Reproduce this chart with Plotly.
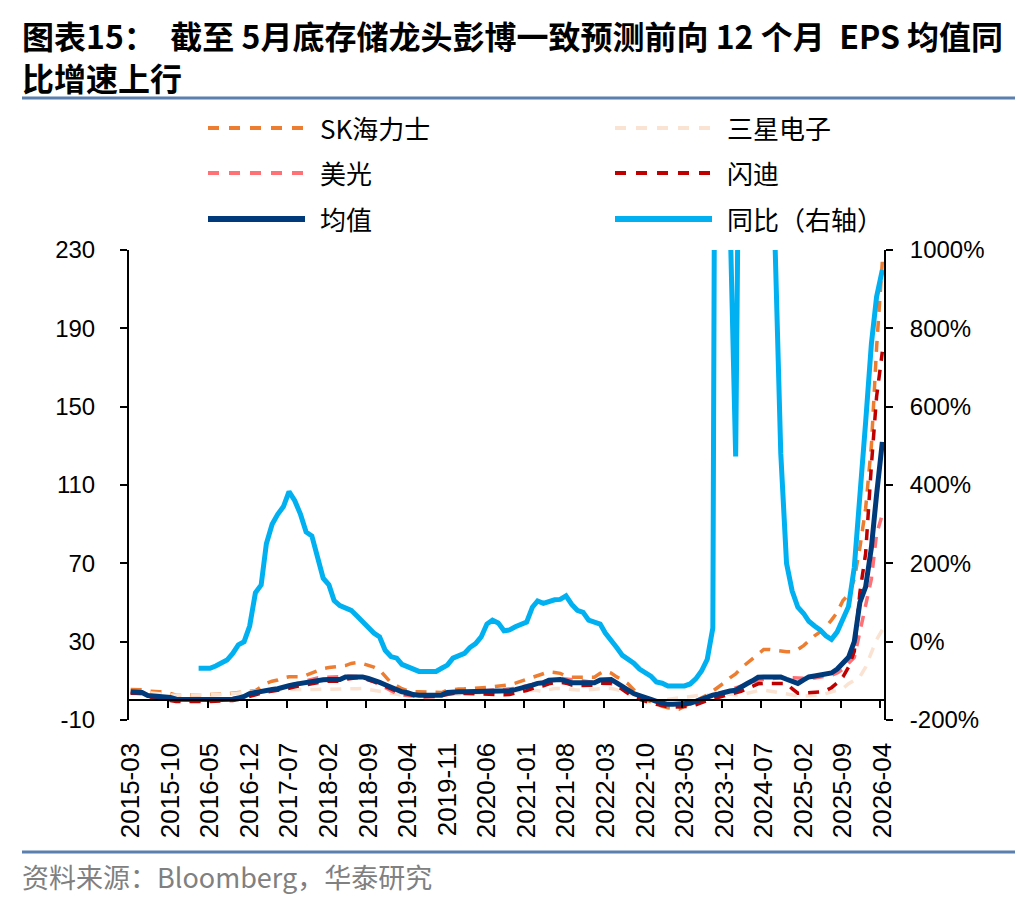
import plotly.graph_objects as go
import pandas as pd

# ---------------- data ----------------
months = pd.date_range("2015-03-01", periods=134, freq="MS")
month_labels = [d.strftime("%Y-%m") for d in months]

sk_hynix = [
    5.6, 5.5, 5.4, 4.8, 4.4, 4.4, 4.4, 3.5, 2.7, 2.7,
    2.7, 2.7, 2.8, 2.9, 3.0, 3.0, 3.1, 3.3, 3.6, 3.9,
    4.2, 4.8, 5.0, 7.0, 8.7, 9.8, 10.4, 11.5, 12.1, 12.1,
    12.1, 12.8, 14.0, 15.5, 16.3, 16.8, 17.0, 17.2, 17.8, 18.9,
    19.3, 18.8, 18.1, 17.0, 15.5, 12.0, 9.0, 7.5, 6.0, 5.0,
    4.4, 4.4, 4.4, 4.4, 4.2, 4.0, 5.2, 5.6, 5.8, 5.9,
    6.0, 6.1, 6.2, 6.6, 7.0, 7.2, 7.3, 7.9, 8.8, 9.8,
    10.6, 12.0, 12.8, 13.6, 14.6, 14.3, 13.8, 12.5, 11.8, 11.8,
    11.8, 11.8, 11.8, 13.8, 15.0, 14.0, 12.0, 10.5, 8.5, 5.5,
    2.5, 0.5, -0.8, -1.8, -3.0, -3.8, -4.3, -4.5, -3.0, -1.5,
    -0.3, 1.2, 2.8, 4.8, 6.8, 9.0, 11.5, 13.5, 16.5, 19.0,
    21.5, 24.0, 26.0, 26.0, 25.5, 25.0, 24.9, 24.9, 26.0, 28.0,
    30.5, 33.0, 35.0, 37.5, 41.0, 45.0, 51.0, 54.0, 62.0, 78.0,
    98.0, 130.0, 180.0, 224.0,
]

samsung = [
    4.5, 4.5, 4.3, 4.0, 3.6, 3.3, 3.0, 2.8, 2.7, 2.7,
    2.7, 2.7, 2.7, 2.7, 2.8, 2.9, 3.0, 3.2, 3.5, 3.8,
    4.2, 4.5, 4.8, 5.0, 5.2, 5.4, 5.5, 5.6, 5.6, 5.6,
    5.6, 5.6, 5.6, 5.6, 5.6, 5.6, 5.6, 5.6, 5.7, 5.8,
    6.0, 6.1, 5.6, 5.0, 4.4, 3.8, 3.3, 2.9, 2.7, 2.7,
    2.7, 2.7, 2.7, 2.7, 2.8, 2.9, 3.0, 3.1, 3.2, 3.3,
    3.4, 3.5, 3.7, 3.9, 4.1, 4.3, 4.4, 4.6, 4.8, 5.0,
    5.2, 5.3, 5.0, 4.4, 5.5, 6.1, 6.1, 5.8, 5.3, 5.3,
    5.3, 5.6, 5.8, 6.1, 6.1, 6.1, 5.5, 4.4, 3.5, 2.6,
    1.9, 1.2, 0.6, 0.0, 0.2, 0.6, 1.0, 1.4, 1.8, 2.2,
    2.5, 2.7, 2.9, 3.2, 3.5, 3.4, 3.1, 2.9, 2.7, 3.5,
    4.3, 5.0, 5.3, 4.8, 4.0, 3.5, 3.0, 2.6, 2.3, 2.2,
    2.3, 2.5, 2.7, 3.5, 4.5, 5.5, 6.1, 8.5, 10.5, 12.1,
    17.0, 24.0, 31.0, 36.0,
]

micron = [
    3.8, 3.7, 3.5, 2.5, 2.0, 1.5, 1.2, 0.8, 0.2, -0.2,
    -0.3, -0.4, -0.4, -0.3, -0.2, 0.0, 0.3, 0.6, 1.0, 1.5,
    2.2, 3.0, 3.8, 4.5, 5.0, 5.5, 6.0, 6.8, 7.8, 8.5,
    9.3, 10.0, 11.0, 11.5, 11.8, 12.0, 12.1, 12.2, 12.5, 12.4,
    12.2, 11.5, 10.5, 9.5, 8.0, 6.5, 5.0, 3.5, 2.8, 2.4,
    2.0, 1.8, 1.8, 1.9, 2.0, 2.4, 3.0, 3.5, 3.8, 4.2,
    4.5, 4.6, 4.8, 5.0, 5.2, 5.4, 5.6, 5.8, 6.2, 6.8,
    7.4, 8.0, 8.8, 9.5, 10.2, 10.8, 11.2, 11.0, 10.6, 10.0,
    9.6, 9.3, 9.0, 8.8, 8.6, 8.5, 7.8, 6.5, 5.0, 3.2,
    1.5, 0.5, -0.6, -1.5, -2.2, -2.6, -2.8, -2.7, -2.2, -1.5,
    -0.5, 0.5, 1.5, 2.5, 3.5, 4.5, 5.5, 6.5, 7.5, 8.5,
    9.5, 10.2, 10.8, 11.2, 11.4, 11.6, 11.6, 11.5, 11.3, 11.2,
    11.3, 11.5, 11.8, 12.2, 12.8, 14.0, 16.0, 19.0, 22.0, 35.0,
    48.0, 62.0, 85.0, 95.0,
]

sandisk = [
    3.6, 3.6, 3.5, 1.9, 1.5, 1.2, 0.5, 0.0, -0.5, -0.6,
    -0.6, -0.6, -0.6, -0.6, -0.5, -0.4, -0.3, -0.2, 0.0, 0.5,
    1.2, 2.0, 2.8, 3.8, 4.2, 4.5, 5.0, 5.5, 6.2, 7.0,
    7.5, 8.0, 8.8, 9.2, 9.5, 9.8, 9.8, 9.8, 10.8, 11.4,
    11.6, 11.4, 10.6, 9.6, 8.6, 7.2, 5.8, 4.6, 3.8, 3.4,
    2.6, 2.0, 2.0, 2.0, 2.0, 2.6, 3.2, 3.6, 3.6, 3.5,
    3.3, 3.1, 3.0, 2.9, 2.8, 2.8, 2.9, 3.0, 3.5, 4.4,
    5.0, 6.0, 7.0, 7.5, 8.5, 9.0, 9.2, 8.8, 7.8, 7.6,
    7.6, 7.6, 7.8, 8.8, 8.8, 8.8, 7.5, 5.5, 3.5, 1.5,
    0.5, -0.5, -1.2, -2.0, -2.8, -3.2, -3.4, -3.4, -3.3, -3.0,
    -2.2, -1.0, 0.0, 0.8, 1.6, 2.5, 3.3, 3.8, 4.6, 6.0,
    7.2, 8.5, 8.7, 8.8, 8.8, 8.7, 8.7, 6.0, 3.7, 3.8,
    3.9, 4.0, 4.3, 5.0, 6.5, 9.0, 12.0, 17.0, 25.0, 55.0,
    75.0, 120.0, 155.0, 178.0,
]

eps_mean = [
    4.4, 4.2, 4.0, 2.5, 2.2, 2.2, 2.2, 1.5, 0.6, 0.5,
    0.5, 0.5, 0.5, 0.5, 0.5, 0.5, 0.5, 0.5, 0.6, 1.2,
    2.0, 3.5, 4.2, 4.8, 5.3, 5.6, 6.0, 6.5, 7.5, 8.2,
    8.7, 9.2, 10.2, 10.5, 10.6, 10.7, 10.7, 10.7, 12.0, 12.1,
    12.1, 12.0, 11.2, 10.4, 9.2, 8.0, 6.8, 5.0, 4.4, 4.0,
    3.0, 2.7, 2.7, 2.7, 2.7, 2.7, 4.0, 4.4, 4.4, 4.4,
    4.4, 4.4, 4.4, 4.4, 4.5, 4.6, 4.7, 4.9, 5.5, 6.1,
    6.6, 7.8, 8.7, 9.0, 10.3, 10.7, 10.7, 10.0, 9.0, 9.0,
    9.0, 9.0, 9.0, 10.4, 10.4, 10.7, 9.0, 7.2, 5.5, 3.5,
    2.5, 1.2, 0.5, -0.5, -1.3, -2.0, -2.0, -2.0, -2.0, -1.5,
    -0.5, 0.8, 1.8, 2.7, 3.3, 4.2, 4.8, 5.2, 7.0, 8.5,
    10.0, 11.8, 12.0, 12.0, 12.0, 12.0, 10.8, 9.5, 8.7, 10.5,
    12.0, 12.5, 13.0, 13.5, 14.0, 16.0, 19.0, 22.0, 30.0, 50.0,
    58.0, 78.0, 105.0, 132.0,
]

# YoY growth of the mean (%), right axis; starts 12 months after the first month
yoy_pct = [None] * 12 + [
    -68, -68, -68, -62, -55, -47, -30, -8,
    0, 40, 125, 145, 250, 300, 325, 345, 383, 360,
    325, 280, 270, 215, 162, 145, 105, 92, 86, 80,
    66, 50, 35, 22, 12, -22, -38, -42, -58, -65,
    -72, -76, -76, -76, -76, -68, -60, -42, -37, -30,
    -15, -5, 12, 45, 55, 48, 28, 30, 38, 44,
    50, 88, 104, 98, 104, 107, 108, 117, 95, 80,
    75, 55, 50, 45, 22, 5, -15, -35, -45, -55,
    -70, -78, -88, -103, -106, -113, -114, -113, -113, -108,
    -95, -75, -45, 35, 4000, 6000, 1100, 473, 1050, 3000,
    5000, 4500, 3500, 2200, 1000, 480, 200, 130, 88, 72,
    52, 40, 30, 15, 6, 25, 60, 90, 190, 360,
    560, 760, 880, 949,
]

left_ticks = [-10, 30, 70, 110, 150, 190, 230]
left_tick_text = [str(v) for v in left_ticks]
right_ticks = [-200, 0, 200, 400, 600, 800, 1000]
right_tick_text = [f"{v}%" for v in right_ticks]

title_lines = ["图表15：  截至 5月底存储龙头彭博一致预测前向 12 个月  EPS 均值同", "比增速上行"]

# ---------------- layout helpers ----------------
W, H = 1036, 900
ML, MR, MT, MB = 129, 152, 250, 180
PW, PH = W - ML - MR, H - MT - MB


def px(x):
    return (x - ML) / PW


def py(y):
    return (H - MB - y) / PH


FONT = "Liberation Sans, Arial, Noto Sans CJK SC, sans-serif"
CJK = "Noto Sans CJK SC, Liberation Sans, sans-serif"

series = [
    ("SK海力士", sk_hynix, "#ED7D31", 3.5, "11px,9px"),
    ("三星电子", samsung, "#FBE3D3", 3.5, "11px,9px"),
    ("美光", micron, "#FF7175", 3.5, "11px,9px"),
    ("闪迪", sandisk, "#C00000", 3.5, "11px,9px"),
    ("均值", eps_mean, "#003A7A", 5, "solid"),
]

fig = go.Figure()
for name, vals, color, width, dash in series:
    fig.add_trace(go.Scatter(
        x=months, y=vals, name=name, mode="lines",
        line=dict(color=color, width=width, dash=dash),
        showlegend=False,
    ))
fig.add_trace(go.Scatter(
    x=months, y=yoy_pct, name="同比（右轴）", mode="lines", yaxis="y2",
    line=dict(color="#00B0F0", width=5), showlegend=False,
))

x_lo = months[0] - pd.Timedelta(days=9)
x_hi = months[-1] + pd.Timedelta(days=9)
minor_ticks = [months[7 * k + 6] + pd.Timedelta(days=18) for k in range(19)]

fig.update_layout(
    width=W, height=H,
    margin=dict(l=ML, r=MR, t=MT, b=MB),
    paper_bgcolor="white", plot_bgcolor="white",
    font=dict(family=FONT, color="black"),
    xaxis=dict(
        type="date", range=[x_lo, x_hi],
        anchor="free", position=10 / 240,
        showline=True, linecolor="black", linewidth=2,
        showgrid=False, zeroline=False,
        ticks="", tickvals=list(months[::7]), ticktext=month_labels[::7],
        tickangle=-90, tickfont=dict(size=26, family=FONT),
        ticklabelstandoff=31,
        minor=dict(tickmode="array", tickvals=minor_ticks, ticks="outside",
                   ticklen=7, tickwidth=2, tickcolor="black"),
    ),
    yaxis=dict(
        range=[-10, 230], tickmode="array",
        tickvals=left_ticks, ticktext=left_tick_text,
        showline=True, linecolor="black", linewidth=2,
        ticks="outside", ticklen=7, tickwidth=2, tickcolor="black",
        showgrid=False, zeroline=False,
        tickfont=dict(size=24, family=FONT), ticklabelstandoff=20,
    ),
    yaxis2=dict(
        overlaying="y", side="right", anchor="x",
        range=[-200, 1000], tickmode="array",
        tickvals=right_ticks, ticktext=right_tick_text,
        showline=True, linecolor="black", linewidth=2,
        ticks="outside", ticklen=7, tickwidth=2, tickcolor="black",
        showgrid=False, zeroline=False,
        tickfont=dict(size=24, family=FONT), ticklabelstandoff=12,
    ),
)

shapes = []
annotations = []

# separators
for yy in (98, 852):
    shapes.append(dict(type="line", xref="paper", yref="paper",
                       x0=px(22), x1=px(1015), y0=py(yy), y1=py(yy),
                       line=dict(color="#5B7FAE", width=3)))

# title (two lines in one text block)
annotations.append(dict(
    xref="paper", yref="paper", x=px(20), y=py(56), xanchor="left", yanchor="middle",
    align="left",
    text="<br>".join(f"<b>{t}</b>" for t in title_lines),
    showarrow=False, font=dict(size=32, family=CJK, color="black"),
))

# source
annotations.append(dict(
    xref="paper", yref="paper", x=px(20), y=py(877), xanchor="left", yanchor="middle",
    text="资料来源：Bloomberg，华泰研究",
    showarrow=False, font=dict(size=27, family=CJK, color="#808080"),
))

# legend (two columns, three rows)
legend_items = [
    ("SK海力士", "#ED7D31", 4, "11px,10px", 205, 128),
    ("三星电子", "#FBE3D3", 4, "11px,10px", 612, 128),
    ("美光", "#FF7175", 4, "11px,10px", 205, 173),
    ("闪迪", "#C00000", 4, "11px,10px", 612, 173),
    ("均值", "#003A7A", 6, "solid", 205, 219),
    ("同比（右轴）", "#00B0F0", 6, "solid", 612, 219),
]
for label, color, width, dash, x0, yy in legend_items:
    shapes.append(dict(type="line", xref="paper", yref="paper",
                       x0=px(x0 + 3), x1=px(x0 + 100), y0=py(yy), y1=py(yy),
                       line=dict(color=color, width=width, dash=dash)))
    annotations.append(dict(
        xref="paper", yref="paper", x=px(x0 + 113), y=py(yy),
        xanchor="left", yanchor="middle", text=label, showarrow=False,
        font=dict(size=26, family=CJK, color="black"),
    ))

fig.update_layout(shapes=shapes, annotations=annotations)
fig.write_html("out.html")
